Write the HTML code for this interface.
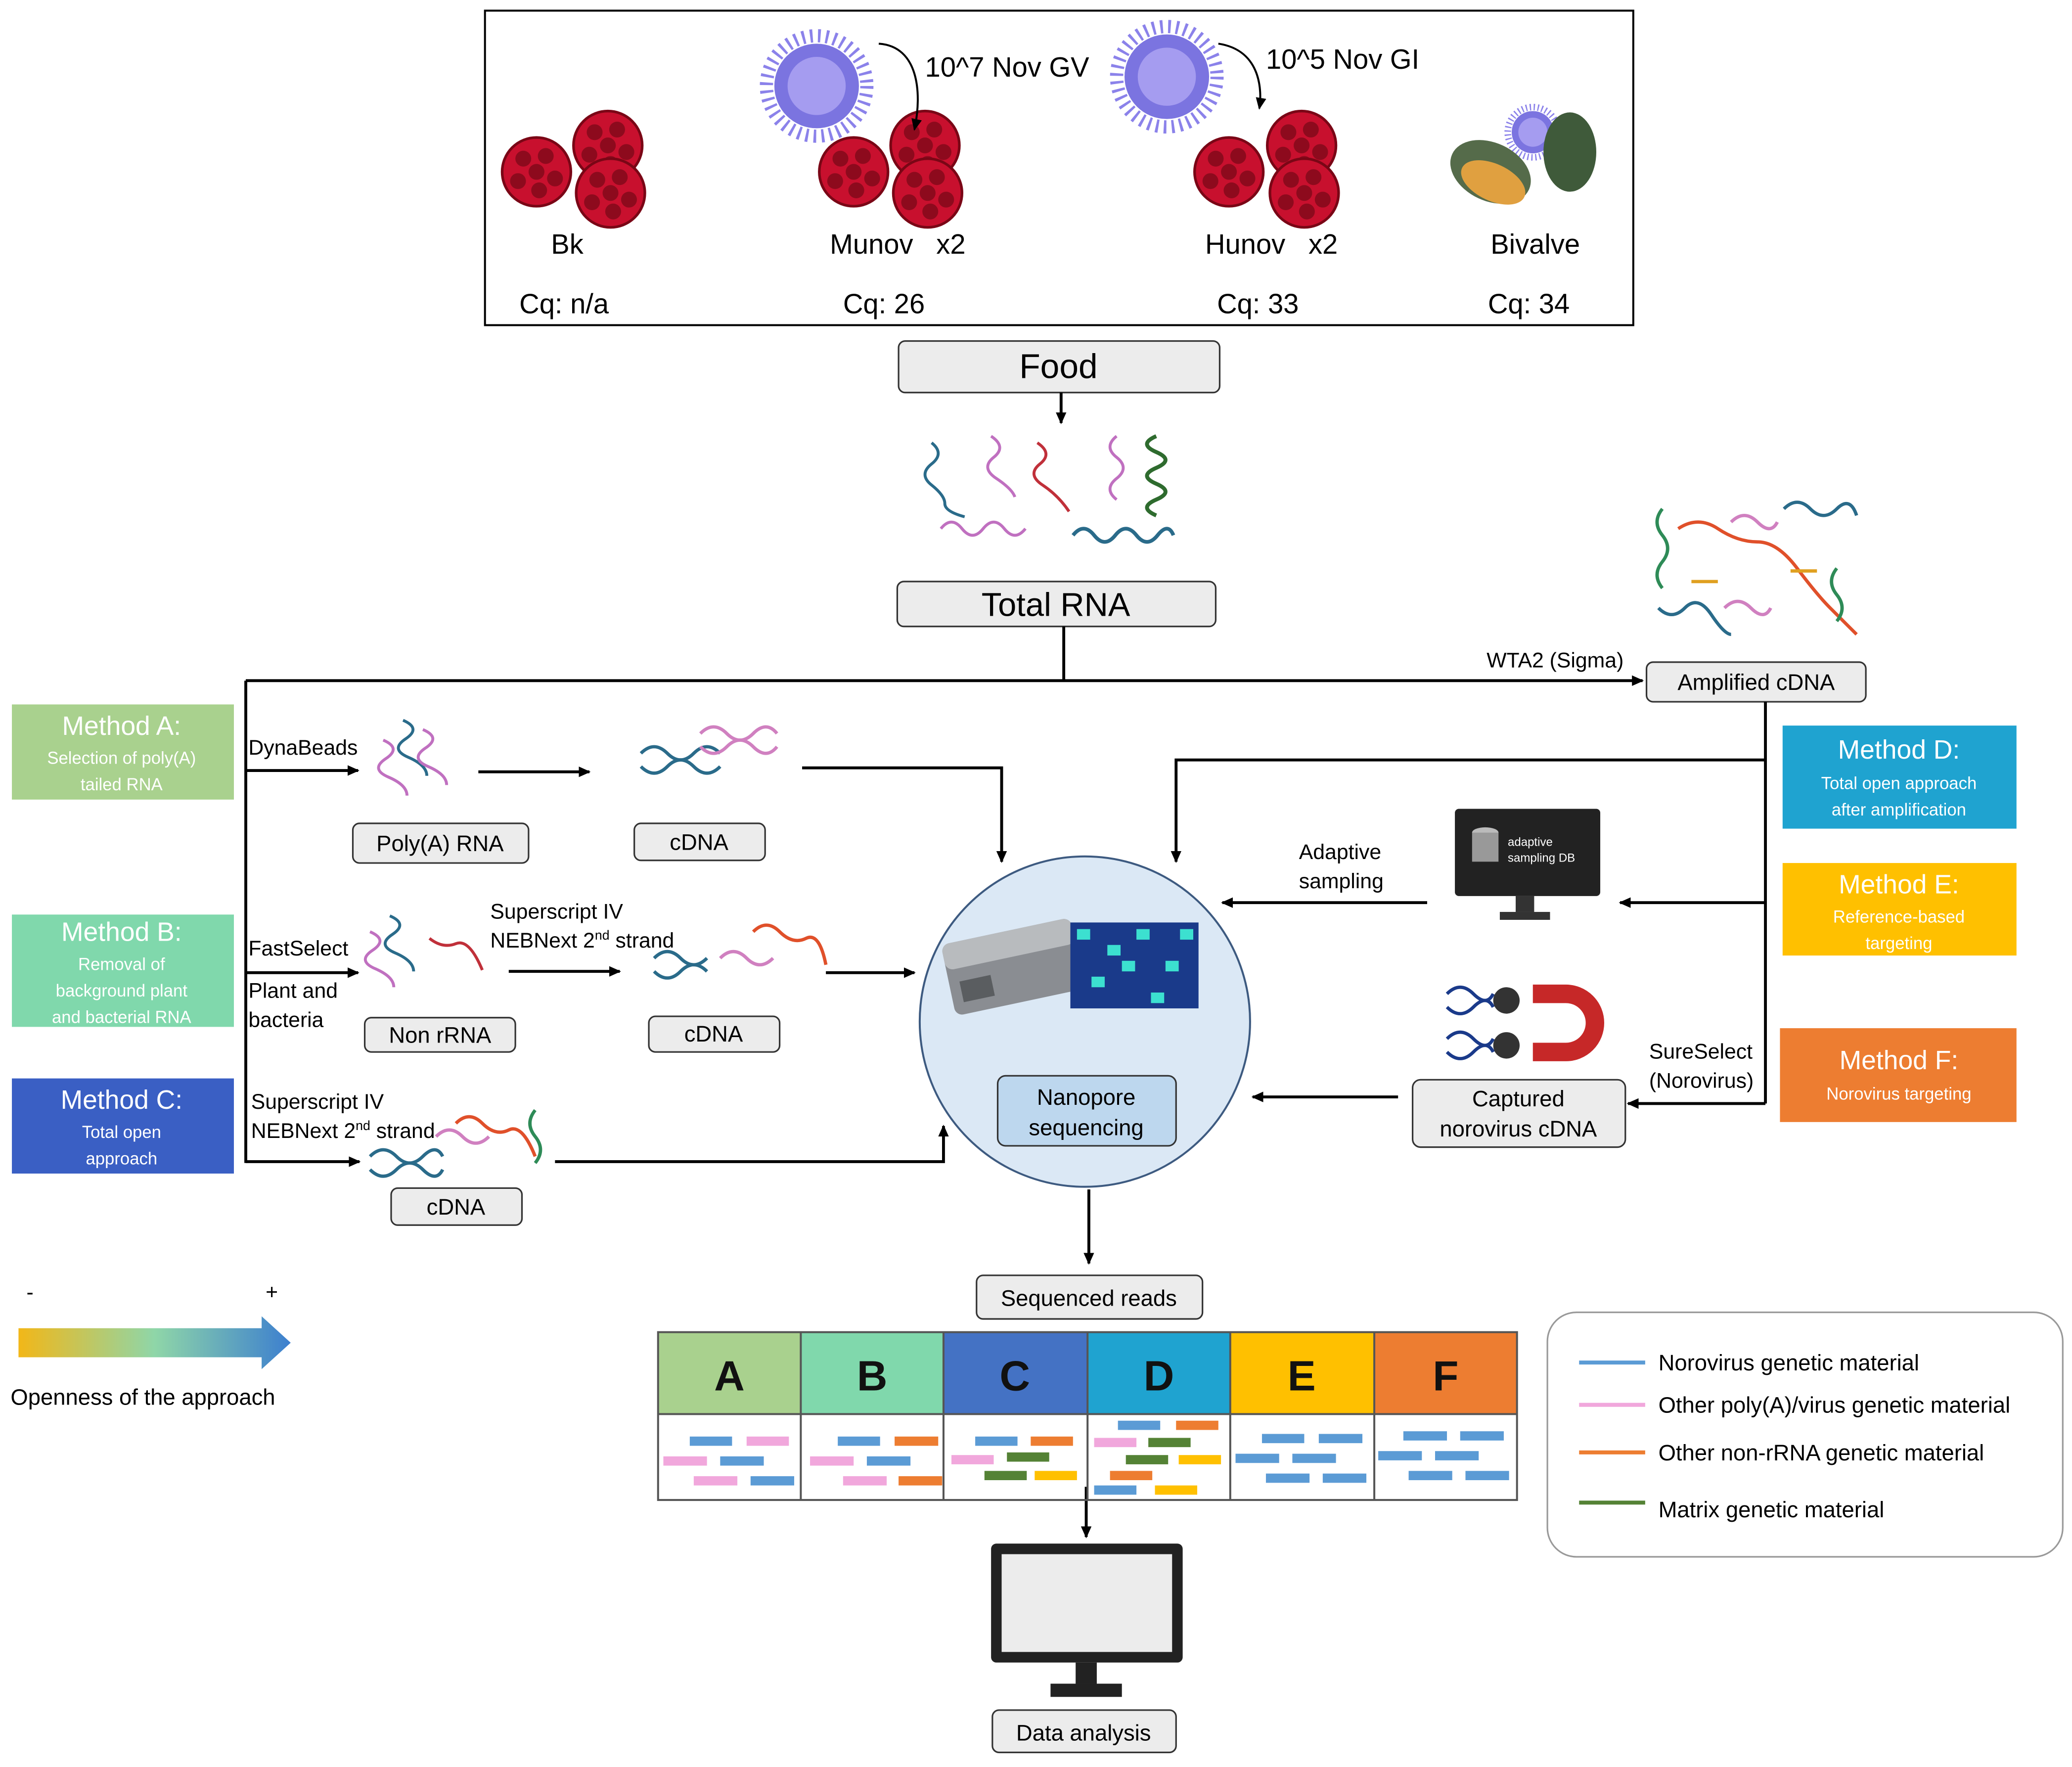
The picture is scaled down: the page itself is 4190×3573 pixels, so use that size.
<!DOCTYPE html>
<html><head><meta charset="utf-8"><style>html,body{margin:0;padding:0;background:#fff}svg{display:block}</style></head>
<body>
<svg width="4190" height="3573" viewBox="0 0 1568 1337" xmlns="http://www.w3.org/2000/svg" font-family="Liberation Sans, sans-serif">
<defs>
<marker id="ar" markerWidth="10" markerHeight="10" refX="8" refY="5" orient="auto" markerUnits="userSpaceOnUse"><path d="M0,1 L9,5 L0,9 z" fill="#000"/></marker>
<linearGradient id="gr" x1="0" x2="1"><stop offset="0" stop-color="#f2b718"/><stop offset="0.5" stop-color="#8fd6a8"/><stop offset="1" stop-color="#3c7fcf"/></linearGradient>
<g id="rasp"><circle r="26" fill="#c8102e"/><circle r="26" fill="none" stroke="#7a0616" stroke-width="2"/>
<g fill="#8d0a1d"><circle cx="-10" cy="-10" r="6"/><circle cx="7" cy="-12" r="6"/><circle cx="14" cy="5" r="6"/><circle cx="-14" cy="7" r="6"/><circle cx="2" cy="14" r="6"/><circle cx="0" cy="0" r="6"/></g></g>
<g id="vir"><circle r="38" fill="none" stroke="#8b82ea" stroke-width="10" stroke-dasharray="2 4"/><circle r="32" fill="#7b74e0"/><circle r="22" fill="#a59cf0"/></g>
</defs>
<g stroke="#000" stroke-width="1.5" fill="none">
<rect x="367" y="8" width="869" height="238"/>
</g>
<g><use href="#rasp" x="406" y="130"/><use href="#rasp" x="460" y="110"/><use href="#rasp" x="462" y="146"/>
<use href="#rasp" x="646" y="130"/><use href="#rasp" x="700" y="110"/><use href="#rasp" x="702" y="146"/>
<use href="#rasp" x="930" y="130"/><use href="#rasp" x="985" y="110"/><use href="#rasp" x="987" y="146"/>
<use href="#vir" x="618" y="65"/><use href="#vir" x="883" y="58"/>
<g transform="translate(1160,100) scale(0.5)"><use href="#vir"/></g>
<ellipse cx="1128" cy="130" rx="32" ry="22" fill="#556b4a" transform="rotate(25 1128 130)"/>
<ellipse cx="1130" cy="138" rx="26" ry="14" fill="#e0a040" transform="rotate(25 1130 138)"/>
<ellipse cx="1188" cy="115" rx="20" ry="30" fill="#3f5a3a"/>
</g>
<g stroke="#000" stroke-width="1.5" fill="none"><path d="M665,33 C695,35 698,70 692,98" marker-end="url(#ar)"/><path d="M922,33 C955,38 955,70 953,82" marker-end="url(#ar)"/></g>
<g font-size="21" fill="#000">
<text x="700" y="58">10^7 Nov GV</text><text x="958" y="52">10^5 Nov GI</text>
<text x="417" y="192">Bk</text><text x="628" y="192">Munov&#160;&#160;&#160;x2</text><text x="912" y="192">Hunov&#160;&#160;&#160;x2</text><text x="1128" y="192">Bivalve</text>
<text x="393" y="237">Cq: n/a</text><text x="638" y="237">Cq: 26</text><text x="921" y="237">Cq: 33</text><text x="1126" y="237">Cq: 34</text>
</g>
<g fill="#ececec" stroke="#333" stroke-width="1.2">
<rect x="680" y="258" width="243" height="39" rx="5"/>
<rect x="679" y="440" width="241" height="34" rx="5"/>
<rect x="1246" y="501" width="166" height="30" rx="5"/>
<rect x="267" y="623" width="133" height="30" rx="5"/>
<rect x="480" y="623" width="99" height="28" rx="5"/>
<rect x="276" y="770" width="114" height="26" rx="5"/>
<rect x="491" y="769" width="99" height="27" rx="5"/>
<rect x="296" y="899" width="99" height="28" rx="5"/>
<rect x="1069" y="817" width="161" height="51" rx="6"/>
<rect x="739" y="965" width="171" height="33" rx="5"/>
<rect x="751" y="1294" width="139" height="32" rx="5"/>
</g>
<g font-size="17" fill="#000" text-anchor="middle">
<text x="801" y="286" font-size="26">Food</text>
<text x="799" y="466" font-size="25">Total RNA</text>
<text x="1329" y="522">Amplified cDNA</text>
<text x="333" y="644">Poly(A) RNA</text>
<text x="529" y="643">cDNA</text>
<text x="333" y="789">Non rRNA</text>
<text x="540" y="788">cDNA</text>
<text x="345" y="919">cDNA</text>
<text x="1149" y="837">Captured</text><text x="1149" y="860">norovirus cDNA</text>
<text x="824" y="988">Sequenced reads</text>
<text x="820" y="1317">Data analysis</text>
</g>
<g fill="none" stroke-width="2.2">
<path d="M705,335 q10,8 0,16 t0,16 t10,14 t15,10" stroke="#2a6b8a"/>
<path d="M750,330 q12,8 2,16 t2,16 t14,14" stroke="#c070c0"/>
<path d="M785,335 q12,8 2,16 t2,16 t20,20" stroke="#c0303a"/>
<path d="M845,330 q-10,8 0,16 t0,16 t0,16" stroke="#c070c0"/>
<path d="M875,330 q-14,6 0,12 t0,12 t0,12 t0,12 t0,12" stroke="#2e6b2e" stroke-width="3"/>
<path d="M712,400 q8,-10 16,0 t16,0 t16,0 t16,0" stroke="#c070c0"/>
<path d="M812,405 q8,-10 16,0 t16,0 t16,0 t16,0 t12,0" stroke="#2a6b8a" stroke-width="2.8"/>
<path d="M290,560 q14,6 2,14 t2,14 t14,14" stroke="#c070c0"/>
<path d="M305,545 q14,6 2,14 t2,14 t14,14" stroke="#2a6b8a"/>
<path d="M320,552 q14,6 2,14 t2,14 t14,14" stroke="#c070c0"/>
<path d="M280,705 q14,6 2,14 t2,14 t14,14" stroke="#c070c0"/>
<path d="M295,693 q14,6 2,14 t2,14 t14,14" stroke="#2a6b8a"/>
<path d="M325,710 q10,8 20,4 t20,20" stroke="#c0303a"/>
</g>
<g fill="none" stroke-width="2.5">
<path d="M485,570 q10,-10 20,0 t20,0 t20,0" stroke="#2a6b8a"/><path d="M485,580 q10,10 20,0 t20,0 t20,0" stroke="#2a6b8a"/>
<path d="M530,555 q10,-10 20,0 t20,0 t18,0" stroke="#d080c0"/><path d="M530,565 q10,10 20,0 t20,0 t18,0" stroke="#d080c0"/>
<path d="M495,725 q10,-10 20,0 t20,0" stroke="#2a6b8a"/><path d="M495,735 q10,10 20,0 t20,0" stroke="#2a6b8a"/>
<path d="M545,725 q10,-10 20,0 t20,0" stroke="#d080c0"/><path d="M570,705 q10,-10 20,0 t20,5 t15,20" stroke="#e0502a"/>
<path d="M280,875 q10,-10 20,0 t20,0 t15,0" stroke="#2a6b8a"/><path d="M280,885 q10,10 20,0 t20,0 t15,0" stroke="#2a6b8a"/>
<path d="M330,860 q10,-10 20,0 t20,0" stroke="#d080c0"/><path d="M345,850 q10,-10 20,0 t20,5 t20,20" stroke="#e0502a"/>
<path d="M405,840 q-8,10 0,20 t0,20" stroke="#2e8b57"/>
<path d="M1258,385 q-8,10 0,20 t0,20 t0,20" stroke="#2e8b57"/>
<path d="M1270,400 q15,-10 30,0 t30,10 t30,20 t25,30 t20,20" stroke="#e0502a"/>
<path d="M1350,385 q10,-10 20,0 t20,0 t15,5" stroke="#2a6b8a"/>
<path d="M1255,460 q10,10 20,0 t20,5 t15,15" stroke="#2a6b8a"/>
<path d="M1310,395 q10,-10 20,0 t15,0" stroke="#d080c0"/><path d="M1305,460 q10,-10 20,0 t15,0" stroke="#d080c0"/>
<path d="M1390,430 q-8,10 0,20 t0,20" stroke="#2e8b57"/>
<path d="M1280,440 h20 M1355,432 h20" stroke="#e0a020"/>
</g>
<g stroke="#000" stroke-width="2.2" fill="none">
<path d="M803,297 V320" marker-end="url(#ar)"/>
<path d="M805,474 V515"/>
<path d="M186,515 H1243" marker-end="url(#ar)"/>
<path d="M186,515 V880"/>
<path d="M186,583 H271" marker-end="url(#ar)"/>
<path d="M362,584 H446" marker-end="url(#ar)"/>
<path d="M607,581 H758 V652" marker-end="url(#ar)"/>
<path d="M186,736 H271" marker-end="url(#ar)"/>
<path d="M385,735 H469" marker-end="url(#ar)"/>
<path d="M625,736 H692" marker-end="url(#ar)"/>
<path d="M186,879 H272" marker-end="url(#ar)"/>
<path d="M420,879 H714 V852" marker-end="url(#ar)"/>
<path d="M1336,531 V835"/>
<path d="M1336,575 H890 V652" marker-end="url(#ar)"/>
<path d="M1336,683 H1226" marker-end="url(#ar)"/>
<path d="M1080,683 H925" marker-end="url(#ar)"/>
<path d="M1336,835 H1232" marker-end="url(#ar)"/>
<path d="M1058,830 H948" marker-end="url(#ar)"/>
<path d="M824,900 V956" marker-end="url(#ar)"/>
<path d="M822,1125 V1163" marker-end="url(#ar)"/>
</g>
<g font-size="16" fill="#000">
<text x="1125" y="505">WTA2 (Sigma)</text>
<text x="188" y="571">DynaBeads</text>
<text x="188" y="723">FastSelect</text><text x="188" y="755">Plant and</text><text x="188" y="777">bacteria</text>
<text x="371" y="695">Superscript IV</text><text x="371" y="717">NEBNext 2<tspan font-size="10" dy="-6">nd</tspan><tspan dy="6"> strand</tspan></text>
<text x="190" y="839">Superscript IV</text><text x="190" y="861">NEBNext 2<tspan font-size="10" dy="-6">nd</tspan><tspan dy="6"> strand</tspan></text>
<text x="983" y="650">Adaptive</text><text x="983" y="672">sampling</text>
<text x="1248" y="801">SureSelect</text><text x="1248" y="823">(Norovirus)</text>
</g>
<g>
<rect x="9" y="533" width="168" height="72" fill="#a9d18e"/>
<rect x="9" y="692" width="168" height="85" fill="#80d8ac"/>
<rect x="9" y="816" width="168" height="72" fill="#3a5fc4"/>
<rect x="1349" y="549" width="177" height="78" fill="#1fa3d0"/>
<rect x="1349" y="653" width="177" height="70" fill="#ffc000"/>
<rect x="1347" y="778" width="179" height="71" fill="#ed7d31"/>
</g>
<g fill="#fff" text-anchor="middle">
<text x="92" y="556" font-size="20">Method A:</text><text x="92" y="578" font-size="13">Selection of poly(A)</text><text x="92" y="598" font-size="13">tailed RNA</text>
<text x="92" y="712" font-size="20">Method B:</text><text x="92" y="734" font-size="13">Removal of</text><text x="92" y="754" font-size="13">background plant</text><text x="92" y="774" font-size="13">and bacterial RNA</text>
<text x="92" y="839" font-size="20">Method C:</text><text x="92" y="861" font-size="13">Total open</text><text x="92" y="881" font-size="13">approach</text>
<text x="1437" y="574" font-size="20">Method D:</text><text x="1437" y="597" font-size="13">Total open approach</text><text x="1437" y="617" font-size="13">after amplification</text>
<text x="1437" y="676" font-size="20">Method E:</text><text x="1437" y="698" font-size="13">Reference-based</text><text x="1437" y="718" font-size="13">targeting</text>
<text x="1437" y="809" font-size="20">Method F:</text><text x="1437" y="832" font-size="13">Norovirus targeting</text>
</g>
<circle cx="821" cy="773" r="125" fill="#dbe8f5" stroke="#3d5a80" stroke-width="1.5"/>
<g transform="translate(712,715) rotate(-12)"><rect width="100" height="55" rx="6" fill="#8a8d92"/><rect y="0" width="100" height="20" rx="6" fill="#b8bbbe"/><rect x="8" y="30" width="24" height="16" fill="#5a5d60"/></g>
<rect x="810" y="698" width="97" height="65" fill="#1a3a8a"/>
<g fill="#3ce0d0"><rect x="815" y="703" width="10" height="8"/><rect x="838" y="715" width="10" height="8"/><rect x="860" y="703" width="10" height="8"/><rect x="882" y="727" width="10" height="8"/><rect x="826" y="739" width="10" height="8"/><rect x="871" y="751" width="10" height="8"/><rect x="893" y="703" width="10" height="8"/><rect x="849" y="727" width="10" height="8"/></g>
<rect x="755" y="814" width="135" height="53" rx="6" fill="#bdd7ee" stroke="#333" stroke-width="1.2"/>
<text x="822" y="836" font-size="17" text-anchor="middle">Nanopore</text><text x="822" y="859" font-size="17" text-anchor="middle">sequencing</text>
<rect x="1101" y="612" width="110" height="66" rx="3" fill="#222"/><rect x="1147" y="678" width="14" height="12" fill="#333"/><rect x="1135" y="690" width="38" height="6" fill="#333"/>
<ellipse cx="1124" cy="630" rx="10" ry="4" fill="#bbb"/><rect x="1114" y="630" width="20" height="22" fill="#999"/>
<text x="1141" y="640" font-size="9" fill="#fff">adaptive</text><text x="1141" y="652" font-size="9" fill="#fff">sampling DB</text>
<g fill="none" stroke="#1a3a8a" stroke-width="2.5"><path d="M1095,752 q10,-10 20,0 t15,0"/><path d="M1095,762 q10,10 20,0 t15,0"/><path d="M1095,786 q10,-10 20,0 t15,0"/><path d="M1095,796 q10,10 20,0 t15,0"/></g>
<circle cx="1140" cy="757" r="10" fill="#333"/><circle cx="1140" cy="791" r="10" fill="#333"/>
<path d="M1160,752 h25 a22,22 0 0 1 0,44 h-25" fill="none" stroke="#c62828" stroke-width="14"/>
<path d="M14,1005 H198 V996 L220,1016 L198,1036 V1027 H14 z" fill="url(#gr)"/>
<text x="20" y="983" font-size="16">-</text><text x="201" y="983" font-size="16">+</text>
<text x="8" y="1063" font-size="17">Openness of the approach</text>
<g>
<rect x="498" y="1008" width="108" height="62" fill="#a9d18e"/><rect x="606" y="1008" width="108" height="62" fill="#80d8ac"/><rect x="714" y="1008" width="109" height="62" fill="#4472c4"/><rect x="823" y="1008" width="108" height="62" fill="#1fa3d0"/><rect x="931" y="1008" width="109" height="62" fill="#ffc000"/><rect x="1040" y="1008" width="108" height="62" fill="#ed7d31"/>
<rect x="498" y="1008" width="650" height="127" fill="none" stroke="#555" stroke-width="1.5"/>
<path d="M498,1070 H1148 M606,1008 V1135 M714,1008 V1135 M823,1008 V1135 M931,1008 V1135 M1040,1008 V1135" stroke="#555" stroke-width="1.5"/>
</g>
<g font-size="32" font-weight="bold" text-anchor="middle" fill="#111"><text x="552" y="1052">A</text><text x="660" y="1052">B</text><text x="768" y="1052">C</text><text x="877" y="1052">D</text><text x="985" y="1052">E</text><text x="1094" y="1052">F</text></g>
<g>
<g fill="#5b9bd5"><rect x="522" y="1087" width="32" height="7"/><rect x="545" y="1102" width="33" height="7"/><rect x="568" y="1117" width="33" height="7"/>
<rect x="634" y="1087" width="32" height="7"/><rect x="656" y="1102" width="33" height="7"/>
<rect x="738" y="1087" width="32" height="7"/><rect x="846" y="1075" width="32" height="7"/><rect x="828" y="1124" width="32" height="7"/>
<rect x="955" y="1085" width="32" height="7"/><rect x="998" y="1085" width="33" height="7"/><rect x="935" y="1100" width="33" height="7"/><rect x="978" y="1100" width="33" height="7"/><rect x="958" y="1115" width="33" height="7"/><rect x="1001" y="1115" width="33" height="7"/>
<rect x="1062" y="1083" width="33" height="7"/><rect x="1105" y="1083" width="33" height="7"/><rect x="1043" y="1098" width="33" height="7"/><rect x="1086" y="1098" width="33" height="7"/><rect x="1066" y="1113" width="33" height="7"/><rect x="1109" y="1113" width="33" height="7"/></g>
<g fill="#f1a7dc"><rect x="565" y="1087" width="32" height="7"/><rect x="502" y="1102" width="33" height="7"/><rect x="525" y="1117" width="33" height="7"/>
<rect x="613" y="1102" width="33" height="7"/><rect x="638" y="1117" width="33" height="7"/><rect x="720" y="1101" width="32" height="7"/><rect x="828" y="1088" width="32" height="7"/></g>
<g fill="#ed7d31"><rect x="677" y="1087" width="33" height="7"/><rect x="680" y="1117" width="33" height="7"/><rect x="780" y="1087" width="32" height="7"/><rect x="890" y="1075" width="32" height="7"/><rect x="840" y="1113" width="32" height="7"/></g>
<g fill="#548235"><rect x="762" y="1099" width="32" height="7"/><rect x="745" y="1113" width="32" height="7"/><rect x="869" y="1088" width="32" height="7"/><rect x="852" y="1101" width="32" height="7"/></g>
<g fill="#ffc000"><rect x="783" y="1113" width="32" height="7"/><rect x="892" y="1101" width="32" height="7"/><rect x="874" y="1124" width="32" height="7"/></g>
</g>
<rect x="750" y="1168" width="145" height="90" rx="4" fill="#222"/><rect x="758" y="1176" width="129" height="74" fill="#ececec"/>
<rect x="814" y="1258" width="16" height="16" fill="#222"/><rect x="795" y="1274" width="54" height="10" fill="#222"/>
<rect x="1171" y="993" width="390" height="185" rx="22" fill="#fff" stroke="#999" stroke-width="1.2"/>
<g stroke-width="3"><path d="M1195,1031 H1245" stroke="#5b9bd5"/><path d="M1195,1063 H1245" stroke="#f1a7dc"/><path d="M1195,1099 H1245" stroke="#ed7d31"/><path d="M1195,1137 H1245" stroke="#548235"/></g>
<g font-size="17"><text x="1255" y="1037">Norovirus genetic material</text><text x="1255" y="1069">Other poly(A)/virus genetic material</text><text x="1255" y="1105">Other non-rRNA genetic material</text><text x="1255" y="1148">Matrix genetic material</text></g>
</svg>
</body></html>
